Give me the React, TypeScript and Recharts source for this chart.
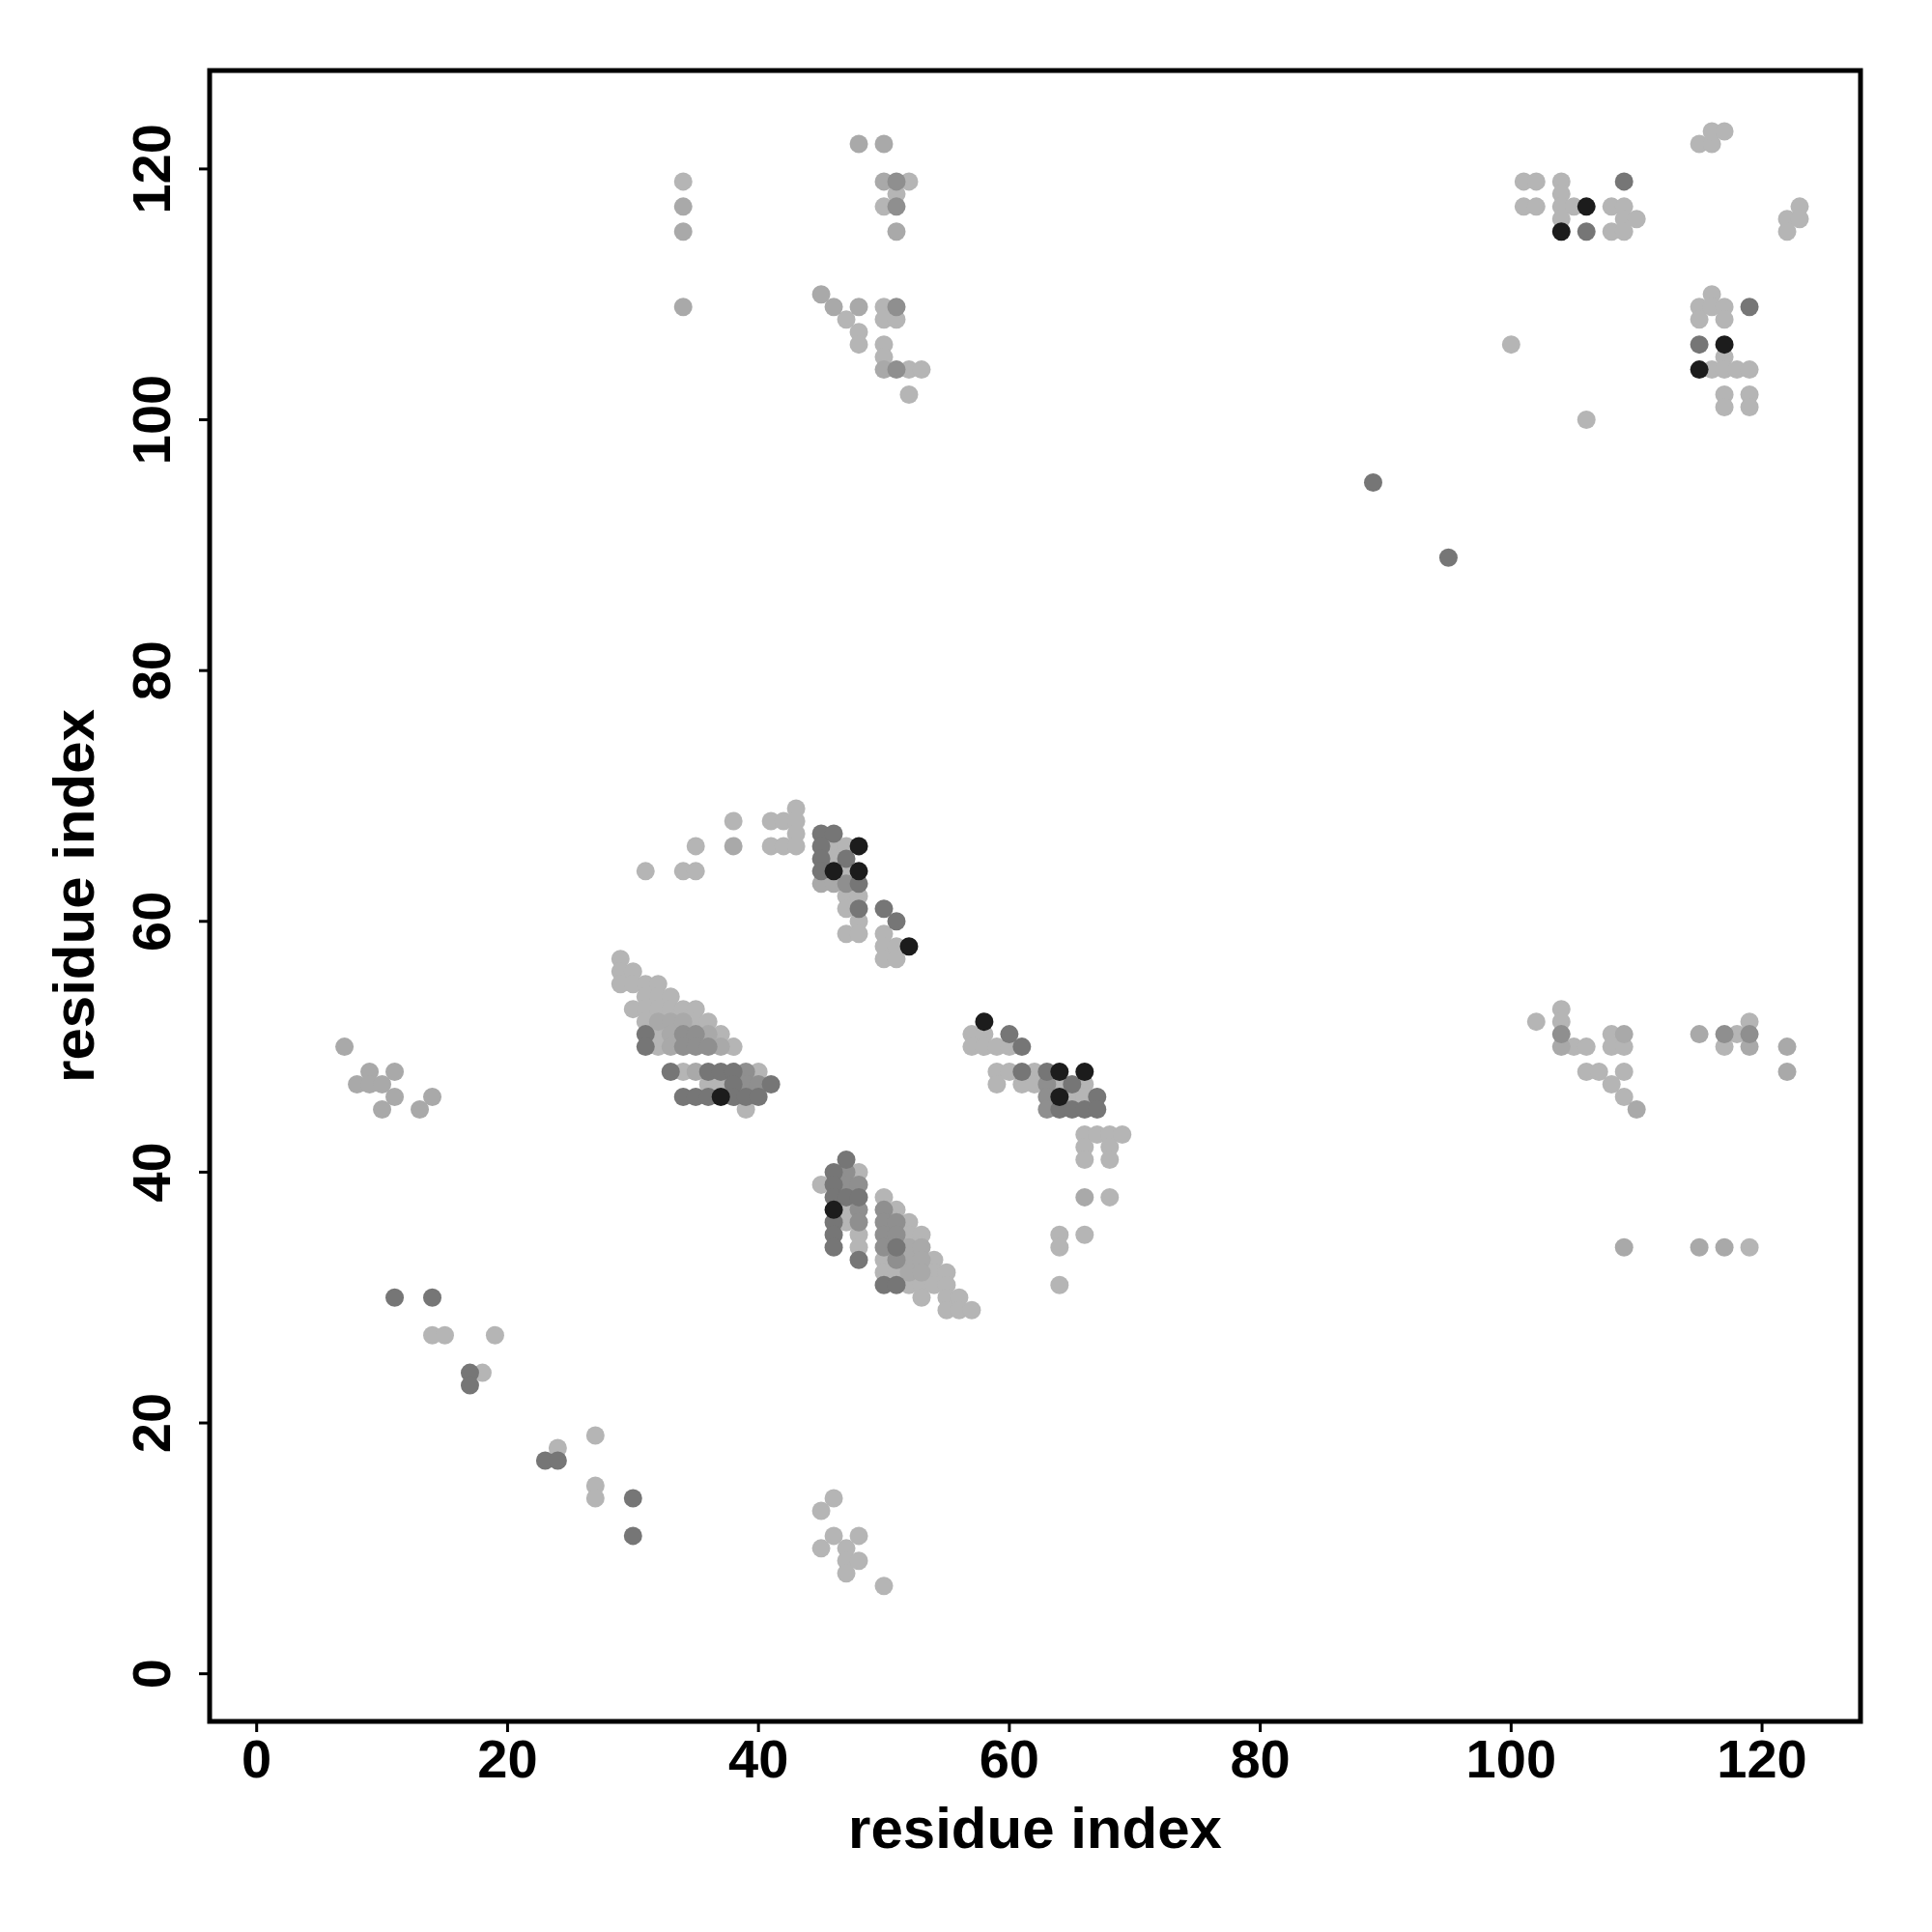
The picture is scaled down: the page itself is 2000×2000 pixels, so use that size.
import React from "react";
import {
  ScatterChart,
  Scatter,
  XAxis,
  YAxis,
  ReferenceArea,
} from "recharts";

// contact pairs [residue i, residue j], grouped by grey level
const lightPairs: [number, number][] = [
  [34, 119], [52, 119], [51, 118], [50, 117], [50, 109], [47, 108], [50, 108], [51, 108],
  [48, 107], [48, 106], [50, 106], [50, 105], [52, 104], [53, 104], [52, 102],
  [115, 122], [116, 122], [116, 123], [117, 123], [101, 119], [102, 119], [104, 119],
  [104, 118], [101, 117], [102, 117], [104, 117], [105, 117], [108, 117], [109, 117],
  [104, 116], [109, 116], [110, 116], [108, 115], [109, 115], [123, 117], [122, 116],
  [123, 116], [122, 115], [116, 110], [115, 109], [116, 109], [117, 109], [115, 108],
  [117, 108], [100, 106], [117, 105], [116, 104], [117, 104], [118, 104], [119, 104],
  [117, 102], [119, 102], [117, 101], [119, 101], [106, 100],
  [43, 69], [38, 68], [41, 68], [42, 68], [43, 68], [43, 67], [35, 66], [41, 66], [42, 66],
  [43, 66], [46, 66], [47, 66], [46, 65], [31, 64], [34, 64], [35, 64], [47, 64],
  [47, 62], [48, 62], [47, 61], [48, 60], [47, 59], [48, 59], [50, 59], [50, 58], [51, 58],
  [50, 57], [51, 57],
  [29, 57], [29, 56], [30, 56], [29, 55], [30, 55], [31, 55], [32, 55], [31, 54], [32, 54],
  [33, 54], [30, 53], [31, 53], [32, 53], [33, 53], [34, 53], [35, 53], [31, 52], [35, 52],
  [36, 52], [32, 51], [37, 51], [32, 50], [38, 50], [34, 48], [40, 48], [36, 47], [37, 47],
  [39, 45],
  [57, 51], [58, 51], [57, 50], [58, 50], [59, 50], [60, 50], [59, 48], [60, 48], [62, 48],
  [59, 47], [61, 47], [62, 47], [64, 47], [66, 47], [65, 46], [66, 46],
  [66, 43], [67, 43], [68, 43], [69, 43], [66, 42], [68, 42], [66, 41], [68, 41], [68, 38],
  [64, 35], [66, 35], [64, 34], [64, 31],
  [45, 39], [47, 37], [47, 36], [48, 40], [48, 35], [48, 34], [50, 38], [50, 33], [50, 32],
  [51, 37], [51, 32], [52, 36], [52, 35], [52, 31], [53, 35], [53, 31], [53, 30], [54, 33],
  [54, 32], [54, 31], [55, 32], [55, 31], [55, 30], [55, 29], [56, 30], [56, 29], [57, 29],
  [14, 27], [15, 27], [19, 27], [18, 24], [27, 19], [24, 18], [27, 15], [27, 14],
  [46, 14], [45, 13], [46, 11], [48, 11], [45, 10], [47, 10], [47, 9], [48, 9], [47, 8], [50, 7],
  [102, 52], [104, 53], [104, 52], [105, 50], [106, 50], [108, 51], [108, 50], [109, 50],
  [106, 48], [107, 48], [109, 48], [108, 47], [109, 46], [118, 51], [119, 52], [117, 50],
  [119, 34],
];

const palePairs: [number, number][] = [
  [48, 122], [50, 122], [34, 117], [34, 115], [34, 109], [50, 119], [51, 115], [45, 110],
  [46, 109], [48, 109], [50, 104],
  [38, 66], [45, 63], [46, 63],
  [32, 52], [33, 52], [34, 52], [33, 51], [36, 51], [33, 50], [37, 50], [35, 48],
  [66, 38], [52, 34], [52, 33], [52, 32], [53, 34], [53, 33], [53, 32],
  [7, 50], [9, 48], [11, 48], [8, 47], [9, 47], [10, 47], [11, 46], [10, 45], [13, 45], [14, 46],
  [104, 50], [109, 51], [110, 45], [109, 34], [115, 51], [119, 50], [122, 50], [122, 48],
  [115, 34], [117, 34],
];

const midPairs: [number, number][] = [
  [51, 119], [51, 117], [51, 109], [51, 104],
  [47, 63],
  [34, 51], [35, 51], [34, 50], [35, 50], [36, 50], [39, 48], [39, 47], [40, 47],
  [63, 47], [63, 46], [63, 45],
  [47, 40], [47, 39], [48, 39], [48, 37], [48, 36], [50, 37], [50, 36], [50, 35], [50, 34],
  [51, 36], [51, 35], [51, 33],
  [104, 51], [117, 51], [119, 51],
];

const darkPairs: [number, number][] = [
  [109, 119], [106, 115], [119, 109], [115, 106], [89, 95], [95, 89],
  [45, 67], [46, 67], [45, 66], [45, 65], [47, 65], [45, 64], [48, 63], [48, 61], [50, 61], [51, 60],
  [31, 51], [31, 50], [33, 48], [36, 48], [37, 48], [38, 48], [38, 47], [41, 47],
  [34, 46], [35, 46], [36, 46], [38, 46], [39, 46], [40, 46],
  [60, 51], [61, 50], [61, 48], [63, 48], [65, 47], [67, 46], [64, 45], [65, 45], [66, 45], [67, 45],
  [47, 41], [46, 40], [46, 39], [46, 38], [46, 36], [46, 35], [46, 34], [47, 38], [48, 38],
  [48, 33], [50, 31], [51, 34], [51, 31],
  [11, 30], [14, 30], [17, 24], [17, 23], [23, 17], [24, 17], [30, 14], [30, 11],
];

const blackPairs: [number, number][] = [
  [106, 117], [104, 115], [117, 106], [115, 104],
  [48, 66], [46, 64], [48, 64], [52, 58],
  [37, 46],
  [58, 52], [64, 48], [66, 48], [64, 46],
  [46, 37],
];

const axisTicks = [0, 20, 40, 60, 80, 100, 120];
const axisTitle = "residue index";

const XMIN = -3.75;
const XMAX = 127.85;
const YMIN = -3.8;
const YMAX = 127.85;

const FONT = "'Liberation Sans', Arial, Helvetica, sans-serif";

const groups = [
  { name: "light", pairs: lightPairs, color: "#b5b5b5" },
  { name: "pale", pairs: palePairs, color: "#a9a9a9" },
  { name: "mid", pairs: midPairs, color: "#8f8f8f" },
  { name: "dark", pairs: darkPairs, color: "#767676" },
  { name: "black", pairs: blackPairs, color: "#1c1c1c" },
];

const XTick = (p: any) => (
  <text
    x={p.x}
    y={p.y}
    dy={43}
    textAnchor="middle"
    fontFamily={FONT}
    fontWeight={700}
    fontSize={56}
    fill="#000"
  >
    {p.payload.value}
  </text>
);

const YTick = (p: any) => (
  <text
    x={p.x}
    y={p.y}
    transform={`rotate(-90 ${p.x} ${p.y})`}
    textAnchor="middle"
    fontFamily={FONT}
    fontWeight={700}
    fontSize={56}
    fill="#000"
  >
    {p.payload.value}
  </text>
);

export default function App() {
  return (
    <div style={{ position: "absolute", left: 0, top: 0, background: "#fff" }}>
      <ScatterChart
        width={2000}
        height={2000}
        margin={{ top: 73, right: 74, bottom: 68, left: 17 }}
      >
        <XAxis
          type="number"
          dataKey="x"
          domain={[XMIN, XMAX]}
          allowDataOverflow
          ticks={axisTicks}
          interval={0}
          height={150}
          axisLine={false}
          tickSize={11}
          tickMargin={4}
          tickLine={{ stroke: "#000", strokeWidth: 3 }}
          tick={<XTick />}
          label={{
            content: (props: any) => {
              const vb = props.viewBox;
              return (
                <text
                  x={vb.x + vb.width / 2}
                  y={vb.y + 131}
                  textAnchor="middle"
                  fontFamily={FONT}
                  fontWeight={700}
                  fontSize={60}
                  fill="#000"
                >
                  {axisTitle}
                </text>
              );
            },
          }}
        />
        <YAxis
          type="number"
          dataKey="y"
          domain={[YMIN, YMAX]}
          allowDataOverflow
          ticks={axisTicks}
          interval={0}
          width={200}
          axisLine={false}
          tickSize={11}
          tickMargin={30}
          tickLine={{ stroke: "#000", strokeWidth: 3 }}
          tick={<YTick />}
          label={{
            content: (props: any) => {
              const vb = props.viewBox;
              const x = vb.x + vb.width - 120;
              const y = vb.y + vb.height / 2;
              return (
                <text
                  x={x}
                  y={y}
                  transform={`rotate(-90 ${x} ${y})`}
                  textAnchor="middle"
                  fontFamily={FONT}
                  fontWeight={700}
                  fontSize={60}
                  fill="#000"
                >
                  {axisTitle}
                </text>
              );
            },
          }}
        />
        {groups.map((g) => (
          <Scatter
            key={g.name}
            name={g.name}
            data={g.pairs.map(([x, y]) => ({ x, y }))}
            isAnimationActive={false}
            shape={(p: any) => <circle cx={p.cx} cy={p.cy} r={9.5} fill={g.color} />}
          />
        ))}
        <ReferenceArea
          x1={XMIN}
          x2={XMAX}
          y1={YMIN}
          y2={YMAX}
          fill="none"
          stroke="#000"
          strokeWidth={5}
          ifOverflow="visible"
        />
      </ScatterChart>
    </div>
  );
}
